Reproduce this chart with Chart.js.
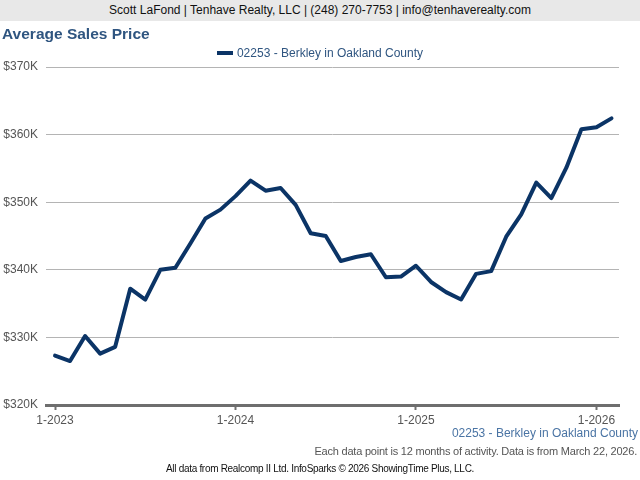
<!DOCTYPE html>
<html>
<head>
<meta charset="utf-8">
<script src="https://cdn.jsdelivr.net/npm/chart.js@4/dist/chart.umd.min.js"></script>
<style>
  body { margin: 0; width: 640px; height: 480px; background: #fff; font-family: Arial, "Liberation Sans", sans-serif; position: relative; overflow: hidden; }
  #hdr { position: absolute; left: 0; top: 0; width: 640px; height: 21px; background: #e8e8e8; color: #111; font-size: 12px; line-height: 21px; text-align: center; }
  #ttl { position: absolute; left: 2px; top: 25px; font-size: 15.5px; font-weight: bold; color: #2f5580; }
  #lgd { position: absolute; left: 0; top: 46px; width: 640px; text-align: center; font-size: 12px; color: #2f5580; }
  #lgd span.box { display: inline-block; width: 16px; height: 4px; background: #0b3466; vertical-align: middle; margin-right: 4px; position: relative; top: -1px; }
  #src { position: absolute; right: 2px; top: 426px; font-size: 12px; color: #4a74a4; }
  #note { position: absolute; right: 3px; top: 445px; font-size: 11px; letter-spacing: -0.22px; color: #555; }
  #foot { position: absolute; left: 0; top: 463px; width: 640px; text-align: center; font-size: 10px; letter-spacing: -0.3px; color: #111; }
  #c { position: absolute; left: 0; top: 0; }
</style>
</head>
<body>
<canvas id="c" width="640" height="480"></canvas>
<div id="hdr">Scott LaFond | Tenhave Realty, LLC | (248) 270-7753 | info@tenhaverealty.com</div>
<div id="ttl">Average Sales Price</div>
<div id="lgd"><span class="box"></span>02253 - Berkley in Oakland County</div>
<div id="src">02253 - Berkley in Oakland County</div>
<div id="note">Each data point is 12 months of activity. Data is from March 22, 2026.</div>
<div id="foot">All data from Realcomp II Ltd. InfoSparks © 2026 ShowingTime Plus, LLC.</div>
<script>
// meses de 1-2023 a 2-2026
var months = ["1-2023","2-2023","3-2023","4-2023","5-2023","6-2023","7-2023","8-2023","9-2023","10-2023","11-2023","12-2023",
              "1-2024","2-2024","3-2024","4-2024","5-2024","6-2024","7-2024","8-2024","9-2024","10-2024","11-2024","12-2024",
              "1-2025","2-2025","3-2025","4-2025","5-2025","6-2025","7-2025","8-2025","9-2025","10-2025","11-2025","12-2025",
              "1-2026","2-2026"];
// precio medio en miles de dolares
var avgPrice = [327.3, 326.5, 330.2, 327.6, 328.6, 337.2, 335.6, 340.0, 340.3, 343.9, 347.6, 348.9,
                350.9, 353.2, 351.7, 352.1, 349.6, 345.4, 345.0, 341.3, 341.9, 342.3, 338.9, 339.0,
                340.6, 338.2, 336.7, 335.6, 339.4, 339.8, 344.9, 348.2, 352.9, 350.6, 355.1, 360.8,
                361.1, 362.4];
var tickLabels = ["1-2023", "1-2024", "1-2025", "1-2026"];
var tickPos = [0, 12, 24, 36];
var seriesName = "02253 - Berkley in Oakland County";

var puntos = avgPrice.map(function (v, i) { return { x: i, y: v }; });

var ctx = document.getElementById("c").getContext("2d");
var chart = new Chart(ctx, {
    type: 'line',
    data: {
        datasets: [{
            label: seriesName,
            data: puntos,
            borderColor: "#0b3466",
            backgroundColor: "#0b3466",
            borderWidth: 4,
            pointRadius: 0,
            tension: 0,
            borderJoinStyle: 'round',
            borderCapStyle: 'round'
        }]
    },
    options: {
        responsive: false,
        animation: false,
        layout: { padding: { left: 0, right: 21, top: 67, bottom: 0 } },
        plugins: { legend: { display: false }, tooltip: { enabled: false } },
        scales: {
            x: {
                type: 'linear',
                min: -0.6,
                max: 37.5,
                afterBuildTicks: function (axis) {
                    axis.ticks = tickPos.map(function (p) { return { value: p }; });
                },
                afterFit: function (axis) { axis.height = 75; },
                grid: { drawOnChartArea: false, drawTicks: true, tickLength: 5, tickWidth: 2, color: "#707070" },
                border: { display: true, color: "#6e6e6e", width: 3 },
                ticks: {
                    autoSkip: false,
                    maxRotation: 0,
                    padding: 3,
                    color: "#555",
                    font: { family: "Arial, 'Liberation Sans'", size: 12 },
                    callback: function (v) {
                        var k = tickPos.indexOf(v);
                        return k >= 0 ? tickLabels[k] : '';
                    }
                }
            },
            y: {
                min: 320,
                max: 370,
                afterFit: function (axis) { axis.width = 46; },
                grid: { color: "#b4b4b4", lineWidth: 1, drawTicks: false },
                border: { display: false },
                ticks: {
                    stepSize: 10,
                    padding: 8,
                    color: "#555",
                    font: { family: "Arial, 'Liberation Sans'", size: 12 },
                    callback: function (v) { return "$" + v + "K"; }
                }
            }
        }
    }
});
</script>
</body>
</html>
